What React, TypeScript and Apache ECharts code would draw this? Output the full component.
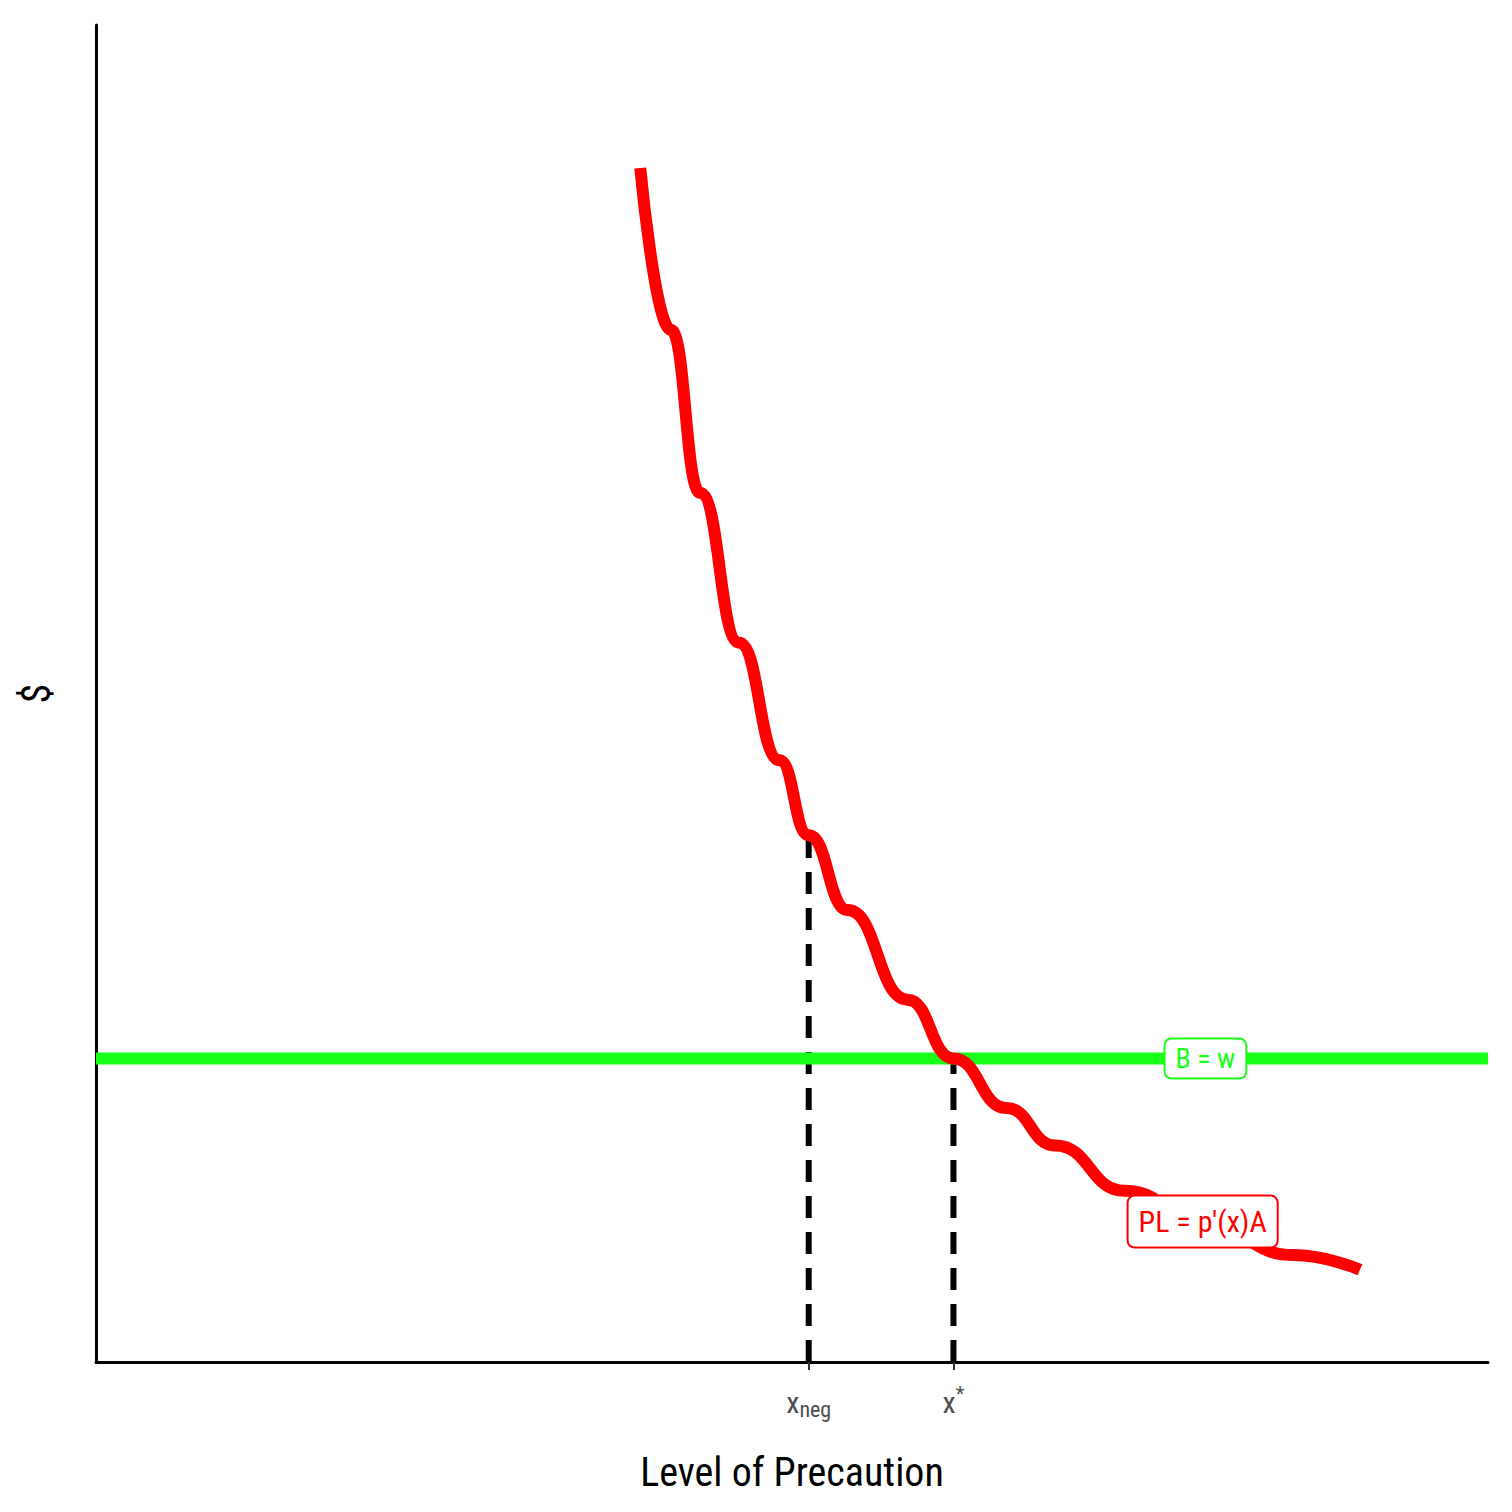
import * as echarts from "echarts";
import React, { useEffect, useRef } from "react";

// curve PL = p'(x)A
const curveX = [3.91, 4.13, 4.34, 4.62, 4.91, 5.12, 5.4, 5.83, 6.16, 6.54, 6.89, 7.39, 8.03, 8.6, 9.08];
const curveY = [8.93, 7.72, 6.5, 5.38, 4.5, 3.94, 3.38, 2.71, 2.27, 1.9, 1.62, 1.28, 0.98, 0.8, 0.69];
const benefitY = 2.27;
const xNeg = 5.12;
const xNegY = 3.94;
const xStar = 6.16;
const tickValues = [xNeg, xStar];

const FONT = "'Roboto Condensed', 'Roboto', sans-serif";

export default function App() {
	const ref = useRef<HTMLDivElement>(null);

	useEffect(() => {
		const chart = echarts.init(ref.current, null, { renderer: "svg" });
		chart.setOption({
			animation: false,
			grid: { left: 70, right: 16, top: 17, bottom: 142 },
			xAxis: {
				type: "value",
				min: 0,
				max: 10,
				name: "Level of Precaution",
				nameLocation: "middle",
				nameGap: 90,
				nameTextStyle: { fontSize: 40, color: "#000", fontFamily: FONT },
				axisLine: { lineStyle: { color: "#000", width: 3 } },
				axisTick: { show: true, customValues: tickValues, length: 8, lineStyle: { color: "#333", width: 2 } },
				axisLabel: {
					customValues: tickValues,
					margin: 22,
					formatter: (v: number) => (Math.abs(v - xNeg) < 0.01 ? "{b|x}{s|neg}" : "{b|x}{p|*}"),
					rich: {
						b: { fontSize: 30, color: "#4d4d4d", fontFamily: FONT },
						s: { fontSize: 22, color: "#4d4d4d", fontFamily: FONT, padding: [14, 0, 0, 0] },
						p: { fontSize: 20, color: "#4d4d4d", fontFamily: FONT, padding: [0, 0, 16, 0] },
					},
				},
				splitLine: { show: false },
			},
			yAxis: {
				type: "value",
				min: 0,
				max: 10,
				name: "$",
				nameLocation: "middle",
				nameGap: 40,
				nameTextStyle: { fontSize: 40, color: "#000", fontFamily: FONT },
				axisLine: { show: true, lineStyle: { color: "#000", width: 3 } },
				axisTick: { show: false },
				axisLabel: { show: false },
				splitLine: { show: false },
			},
			series: [
				{
					type: "line",
					data: [[0, benefitY], [10, benefitY]],
					symbol: "none",
					lineStyle: { color: "#1aff1a", width: 12 },
					z: 2,
					markPoint: {
						symbol: "rect",
						symbolSize: 0,
						data: [{ coord: [7.97, benefitY] }],
						label: {
							show: true,
							formatter: "B = w",
							color: "#1aff1a",
							fontSize: 28,
							fontFamily: FONT,
							backgroundColor: "#fff",
							borderColor: "#1aff1a",
							borderWidth: 2,
							borderRadius: 6,
							padding: [5, 10],
						},
					},
				},
				{
					type: "line",
					data: curveX.map((x, i) => [x, curveY[i]]),
					smooth: 0.5,
					smoothMonotone: "x",
					symbol: "none",
					lineStyle: { color: "#ff0000", width: 12 },
					z: 3,
					markPoint: {
						symbol: "rect",
						symbolSize: 0,
						data: [{ coord: [7.95, 1.05] }],
						label: {
							show: true,
							formatter: "PL = p′(x)A",
							color: "#ff0000",
							fontSize: 30,
							fontFamily: FONT,
							backgroundColor: "#fff",
							borderColor: "#ff0000",
							borderWidth: 2,
							borderRadius: 6,
							padding: [10, 10],
						},
					},
				},
				{
					type: "line",
					data: [[xNeg, 0], [xNeg, xNegY]],
					symbol: "none",
					lineStyle: { color: "#000", width: 6, type: [22, 14] },
					z: 1,
				},
				{
					type: "line",
					data: [[xStar, 0], [xStar, benefitY]],
					symbol: "none",
					lineStyle: { color: "#000", width: 6, type: [22, 14] },
					z: 1,
				},
			],
		});
		return () => chart.dispose();
	}, []);

	return <div ref={ref} style={{ width: 1496, height: 1496 }} />;
}
